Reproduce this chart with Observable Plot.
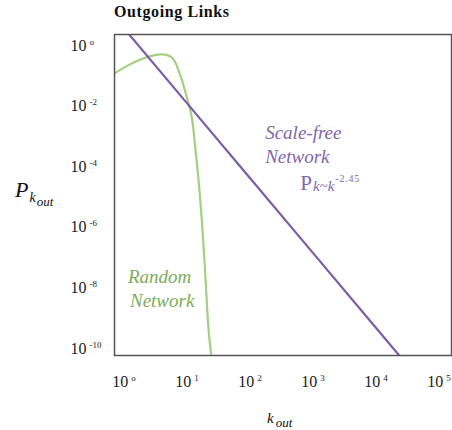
<!DOCTYPE html>
<html><head><meta charset="utf-8">
<script src="https://cdn.jsdelivr.net/npm/d3@7"></script>
<script src="https://cdn.jsdelivr.net/npm/@observablehq/plot@0.6"></script>
<style>
body{margin:0;background:#fff;}
#wrap{position:relative;width:452px;height:430px;overflow:hidden;background:#fff;}
#title{position:absolute;left:114px;top:3px;font:bold 16px "Liberation Serif",serif;letter-spacing:0.6px;color:#111;white-space:nowrap;z-index:2;}
#wrap svg{position:absolute;left:0;top:0;z-index:1;}
</style></head><body>
<div id="wrap"><div id="title">Outgoing Links</div></div>
<script>
// tick values
const xTickValues = [1, 10, 100, 1000, 10000, 100000];
const yTickValues = [1, 1e-2, 1e-4, 1e-6, 1e-8, 1e-10];
// Random network
const randomK = [0.706, 1.18, 1.83, 2.64, 3.80, 4.86, 5.84, 6.59, 7.43, 8.42, 9.52, 10.7, 11.7, 12.6, 13.4, 15.3, 17.7, 19.8, 22.1, 24.6];
const randomP = [0.119, 0.224, 0.345, 0.443, 0.505, 0.479, 0.393, 0.269, 0.142, 0.0664, 0.0275, 0.0113, 0.00528, 0.00192, 5.4e-4, 3.5e-5, 7.8e-7, 1.75e-8, 3.9e-10, 5e-11];
// Scale-free network
const scaleFreeK = [1, 10, 100, 1000, 10000, 100000];
const scaleFreeP = [3.67, 0.0125, 4.2e-5, 1.43e-7, 4.84e-10, 1.64e-12];

const randomData = randomK.map((k, i) => ({k, p: randomP[i]}));
const scaleFreeData = scaleFreeK.map((k, i) => ({k, p: scaleFreeP[i]}));

const green = "#a2cf80", greenText = "#7cac58", purple = "#7b5ca8", purpleText = "#8066ae";
const serif = "'Liberation Serif', serif";
const expOf = d => Math.round(Math.log10(d));

const plot = Plot.plot({
  width: 452, height: 430,
  marginLeft: 114, marginRight: 1, marginTop: 34, marginBottom: 75,
  style: {fontFamily: serif, fontSize: "16px", color: "#222", background: "transparent"},
  x: {type: "log", domain: [10 ** -0.15, 10 ** 5.2]},
  y: {type: "log", domain: [10 ** -10.23, 10 ** 0.36]},
  marks: [
    Plot.axisX(xTickValues, {tickSize: 0, tickPadding: 20, fontSize: 16, tickFormat: d => "10|" + expOf(d), label: null}),
    Plot.axisY(yTickValues, {tickSize: 0, tickPadding: 44, fontSize: 16, textAnchor: "start", tickFormat: d => "10|" + expOf(d), label: null}),
    Plot.line(randomData, {x: "k", y: "p", stroke: green, strokeWidth: 2.2, curve: "catmull-rom", clip: "frame"}),
    Plot.line(scaleFreeData, {x: "k", y: "p", stroke: purple, strokeWidth: 2.2, clip: "frame"}),
    Plot.frame({stroke: "#555", strokeWidth: 1.5})
  ]
});
document.getElementById("wrap").appendChild(plot);

const ns = "http://www.w3.org/2000/svg";
function tspan(parent, txt, attrs) {
  const t = document.createElementNS(ns, "tspan");
  t.textContent = txt;
  for (const [a, v] of Object.entries(attrs || {})) t.setAttribute(a, v);
  parent.appendChild(t);
  return t;
}
plot.querySelectorAll('[aria-label="x-axis tick label"] text, [aria-label="y-axis tick label"] text').forEach(t => {
  const [b, e] = t.textContent.split("|");
  t.textContent = "";
  tspan(t, b);
  tspan(t, e === "0" ? "o" : e, {dx: "3", dy: "-6", "font-size": "9px"});
});

const svg = d3.select(plot);
const sx = plot.scale("x"), sy = plot.scale("y");

// y label
const yl = svg.append("text").attr("font-family", serif).attr("text-anchor", "start").attr("x", 15).attr("y", 197).attr("fill", "#111").attr("font-style", "italic");
yl.append("tspan").attr("font-size", "22px").text("P");
yl.append("tspan").attr("font-size", "14px").attr("dy", 5).attr("dx", 1).text("k");
yl.append("tspan").attr("font-size", "13px").attr("dy", 4).attr("dx", 1).text("out");

// x label
const xl = svg.append("text").attr("font-family", serif).attr("text-anchor", "start").attr("x", 267).attr("y", 423).attr("fill", "#111").attr("font-style", "italic");
xl.append("tspan").attr("font-size", "15px").text("k");
xl.append("tspan").attr("font-size", "13px").attr("dy", 4).attr("dx", 2).text("out");

// annotations
function twoLines(x, yBase, l1, l2, color, dx2) {
  const g = svg.append("g").attr("font-family", serif).attr("fill", color).attr("font-style", "italic").attr("font-size", "19px").attr("text-anchor", "start");
  g.append("text").attr("x", x).attr("y", yBase - 24).text(l1);
  g.append("text").attr("x", x + dx2).attr("y", yBase).text(l2);
}
twoLines(sx.apply(1.18), sy.apply(2.25e-9), "Random", "Network", greenText, 2);
twoLines(sx.apply(177.8), sy.apply(1.28e-4), "Scale-free", "Network", purpleText, 0);

const f = svg.append("text").attr("font-family", serif).attr("text-anchor", "start").attr("x", sx.apply(640)).attr("y", sy.apply(1.64e-5)).attr("fill", purpleText);
f.append("tspan").attr("font-size", "21px").text("P");
f.append("tspan").attr("font-size", "15px").attr("dy", 1).attr("dx", 1).attr("font-style", "italic").text("k~k");
f.append("tspan").attr("font-size", "10px").attr("dy", -9).attr("dx", 1).attr("letter-spacing", "0.8").text("-2.45");
</script>
</body></html>
